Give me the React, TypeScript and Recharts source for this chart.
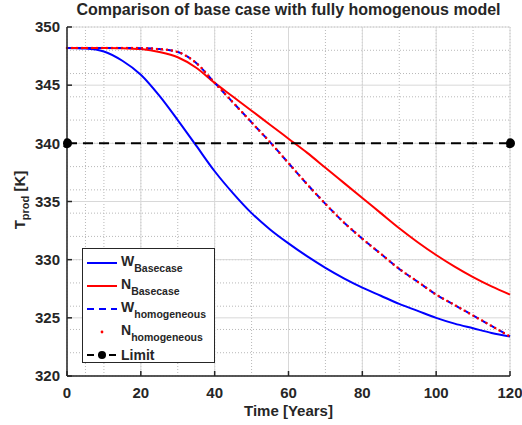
import React from 'react';
import { LineChart, Line, XAxis, YAxis, CartesianGrid } from 'recharts';

const years = [0, 5, 10, 15, 20, 25, 30, 35, 40, 45, 50, 55, 60, 65, 70, 75, 80, 85, 90, 95, 100, 105, 110, 115, 120];
const wBasecase = [348.2, 348.15, 347.9, 347.1, 345.9, 344.1, 342.0, 339.8, 337.6, 335.7, 334.0, 332.6, 331.4, 330.3, 329.3, 328.4, 327.6, 326.9, 326.2, 325.6, 325.0, 324.5, 324.1, 323.7, 323.4];
const nBasecase = [348.2, 348.2, 348.2, 348.18, 348.1, 347.85, 347.4, 346.5, 345.2, 344.0, 342.8, 341.6, 340.4, 339.2, 337.9, 336.6, 335.3, 334.0, 332.7, 331.5, 330.4, 329.4, 328.5, 327.7, 327.0];
const wHomogeneous = [348.2, 348.2, 348.2, 348.2, 348.18, 348.1, 347.85, 346.9, 345.2, 343.5, 341.8, 340.1, 338.3, 336.5, 334.8, 333.2, 331.8, 330.5, 329.2, 328.1, 327.0, 326.1, 325.2, 324.3, 323.4];
const nHomogeneous = [348.2, 348.2, 348.2, 348.2, 348.18, 348.1, 347.85, 346.9, 345.2, 343.5, 341.8, 340.1, 338.3, 336.5, 334.8, 333.2, 331.8, 330.5, 329.2, 328.1, 327.0, 326.1, 325.2, 324.3, 323.4];
const limitValue = 340;

const xTicks = [0, 20, 40, 60, 80, 100, 120];
const yTicks = [320, 325, 330, 335, 340, 345, 350];
const xMinorTicks = [0, 5, 10, 15, 20, 25, 30, 35, 40, 45, 50, 55, 60, 65, 70, 75, 80, 85, 90, 95, 100, 105, 110, 115, 120];
const yMinorTicks = [320, 321, 322, 323, 324, 325, 326, 327, 328, 329, 330, 331, 332, 333, 334, 335, 336, 337, 338, 339, 340, 341, 342, 343, 344, 345, 346, 347, 348, 349, 350];

const data = years.map((t, i) => ({
  t,
  wBase: wBasecase[i],
  nBase: nBasecase[i],
  wHom: wHomogeneous[i],
  nHom: nHomogeneous[i],
  limit: i === 0 || i === years.length - 1 ? limitValue : null,
}));

const FONT = '"Liberation Sans", Arial, Helvetica, sans-serif';
const TXT = '#262626';
const BLUE = '#0000ff';
const RED = '#ff0000';

const tickStyle = { fill: TXT, fontSize: 15, fontWeight: 'bold', fontFamily: FONT };

const legendRows = [
  { main: 'W', sub: 'Basecase', kind: 'blueSolid' },
  { main: 'N', sub: 'Basecase', kind: 'redSolid' },
  { main: 'W', sub: 'homogeneous', kind: 'blueDash' },
  { main: 'N', sub: 'homogeneous', kind: 'redDot' },
  { main: 'Limit', sub: '', kind: 'limit' },
];

function Sample({ kind }: { kind: string }) {
  return (
    <svg width={32} height={12} style={{ display: 'block' }}>
      {kind === 'blueSolid' && <line x1={1} y1={6} x2={31} y2={6} stroke={BLUE} strokeWidth={2} />}
      {kind === 'redSolid' && <line x1={1} y1={6} x2={31} y2={6} stroke={RED} strokeWidth={2} />}
      {kind === 'blueDash' && <line x1={1} y1={6} x2={31} y2={6} stroke={BLUE} strokeWidth={2} strokeDasharray="7 5" />}
      {kind === 'redDot' && <circle cx={16} cy={6} r={1.4} fill={RED} />}
      {kind === 'limit' && (
        <g>
          <line x1={1} y1={6} x2={31} y2={6} stroke="#000" strokeWidth={2} strokeDasharray="7 4" />
          <circle cx={16} cy={6} r={4} fill="#000" />
        </g>
      )}
    </svg>
  );
}

export default function App() {
  return (
    <div style={{ position: 'absolute', left: 0, top: 0, width: 522, height: 425, background: '#fff', fontFamily: FONT, color: TXT }}>
      <LineChart width={522} height={425} data={data} margin={{ top: 27, right: 12, bottom: 19, left: 27 }}>
        <CartesianGrid verticalValues={xMinorTicks} horizontalValues={yMinorTicks} stroke="#b8b8b8" strokeDasharray="1 2" />
        <CartesianGrid stroke="#d8d8d8" />
        <XAxis dataKey="t" type="number" domain={[0, 120]} ticks={xTicks} height={30} tickSize={-5} tickMargin={16} tick={tickStyle} stroke={TXT} strokeWidth={1.5} />
        <XAxis xAxisId="top" orientation="top" dataKey="t" type="number" domain={[0, 120]} ticks={xTicks} height={0} tickSize={-5} tick={false} stroke={TXT} strokeWidth={1.5} />
        <YAxis type="number" domain={[320, 350]} ticks={yTicks} width={40} tickSize={-5} tickMargin={12} tick={tickStyle} stroke={TXT} strokeWidth={1.5} />
        <YAxis yAxisId="right" orientation="right" type="number" domain={[320, 350]} ticks={yTicks} width={0} tickSize={-5} tick={false} stroke={TXT} strokeWidth={1.5} />
        <Line dataKey="wBase" type="monotone" stroke={BLUE} strokeWidth={2} dot={false} isAnimationActive={false} />
        <Line dataKey="nBase" type="monotone" stroke={RED} strokeWidth={2} dot={false} isAnimationActive={false} />
        <Line dataKey="wHom" type="monotone" stroke={BLUE} strokeWidth={2} strokeDasharray="6 4" dot={false} isAnimationActive={false} />
        <Line dataKey="nHom" type="monotone" stroke={RED} strokeWidth={2.5} strokeDasharray="0 5" strokeLinecap="round" dot={false} isAnimationActive={false} />
        <Line dataKey="limit" type="linear" connectNulls stroke="#000" strokeWidth={2} strokeDasharray="10 6" dot={{ r: 4, fill: '#000', stroke: '#000' }} isAnimationActive={false} />
      </LineChart>

      <div style={{ position: 'absolute', left: 67, top: 1, width: 443, textAlign: 'center', fontSize: 16, fontWeight: 'bold', whiteSpace: 'nowrap' }}>
        Comparison of base case with fully homogenous model
      </div>
      <div style={{ position: 'absolute', left: 67, top: 402, width: 443, textAlign: 'center', fontSize: 15, fontWeight: 'bold' }}>
        Time [Years]
      </div>
      <div style={{ position: 'absolute', left: 19, top: 200, transform: 'translate(-50%, -50%) rotate(-90deg)', fontSize: 15, fontWeight: 'bold', whiteSpace: 'nowrap' }}>
        T<span style={{ fontSize: 11, position: 'relative', top: 4 }}>prod</span> [K]
      </div>

      <div style={{ position: 'absolute', left: 82, top: 248, width: 133, height: 115, boxSizing: 'border-box', border: '1.5px solid #262626', background: '#fff', paddingTop: 2 }}>
        {legendRows.map((r, i) => (
          <div key={i} style={{ display: 'flex', alignItems: 'center', height: 23, paddingLeft: 3 }}>
            <Sample kind={r.kind} />
            <div style={{ marginLeft: 3, fontSize: 14, fontWeight: 'bold', whiteSpace: 'nowrap', position: 'relative', top: r.sub ? -2 : 0 }}>
              {r.main}
              {r.sub && <span style={{ fontSize: 10.5, position: 'relative', top: 6 }}>{r.sub}</span>}
            </div>
          </div>
        ))}
      </div>
    </div>
  );
}
